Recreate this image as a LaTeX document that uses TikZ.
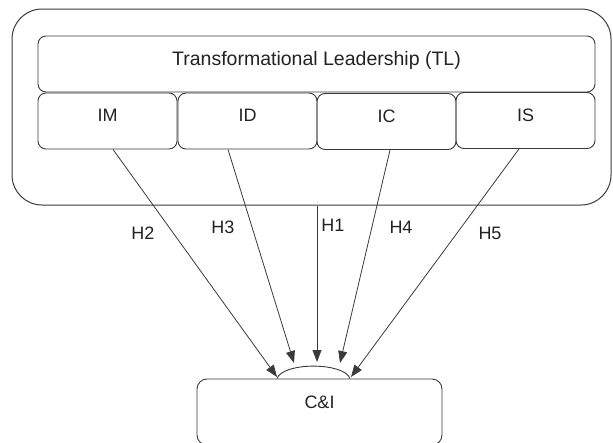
\documentclass[tikz,border=0pt]{standalone}
\usepackage{fontspec}
\setmainfont{Liberation Sans}
\usetikzlibrary{arrows.meta,calc}
\definecolor{ln}{HTML}{3A3A3A}
\definecolor{tx}{HTML}{222222}
\begin{document}
\begin{tikzpicture}[x=1pt,y=-1pt,
  every node/.style={font=\fontsize{18}{21}\selectfont, text=tx},
  box/.style={draw=ln, line width=0.9pt, rounded corners=8pt, inner sep=0pt,
     text height=13pt, text depth=12pt},
  lbl/.style={inner sep=0pt},
  arr/.style={draw=ln, line width=0.8pt, -{Triangle[length=12pt,width=9pt]}}]
\useasboundingbox (0,0) rectangle (613,442);
\clip (0,0) rectangle (613,442);
\node[draw=ln, line width=1pt, rounded corners=30pt, minimum width=599pt, minimum height=196pt, inner sep=0pt] (outer) at (311.5,107) {};
\node[box, minimum width=557pt, minimum height=56pt, font=\fontsize{19.5}{22}\selectfont, text height=14pt] (tl) at (316.5,64) {Transformational Leadership (TL)};
\node[box, minimum width=139pt, minimum height=56pt] (im) at (107.5,121) {IM};
\node[box, minimum width=139pt, minimum height=56pt] (id) at (247.5,121) {ID};
\node[box, minimum width=139pt, minimum height=56pt] (ic) at (386.5,121.5) {IC};
\node[box, minimum width=139pt, minimum height=56pt] (is) at (525.5,120.5) {IS};
\node[draw=ln, line width=0.9pt, rounded corners=10pt, minimum width=245pt, minimum height=66pt, inner sep=0pt, text height=13pt, text depth=21pt] (ci) at (319.5,412) {C\&I};
% arc on top of C&I
\coordinate (arcl) at (277,378.5);
\coordinate (arcr) at (350,378.5);
\draw[ln, line width=0.9pt] (arcl) .. controls (283,362) and (344,362) .. (arcr);
\coordinate (e2) at (277,377);
\coordinate (e3) at (294,363);
\coordinate (e1) at (317,362);
\coordinate (e4) at (340,363);
\coordinate (e5) at (351,377);
\draw[arr] ([xshift=5.5pt]im.south) -- (e2);
\draw[arr] ([xshift=-19.5pt]id.south) -- (e3);
\draw[arr] ([xshift=5.5pt]outer.south) -- (e1);
\draw[arr] ([xshift=3.5pt]ic.south) -- (e4);
\draw[arr] ([xshift=-6.5pt]is.south) -- (e5);
\node[lbl] (h2) at (143,233) {H2};
\node[lbl] (h3) at (223,227) {H3};
\node[lbl] (h1) at (333,225) {H1};
\node[lbl] (h4) at (401,227) {H4};
\node[lbl] (h5) at (490,233) {H5};
\end{tikzpicture}
\end{document}
